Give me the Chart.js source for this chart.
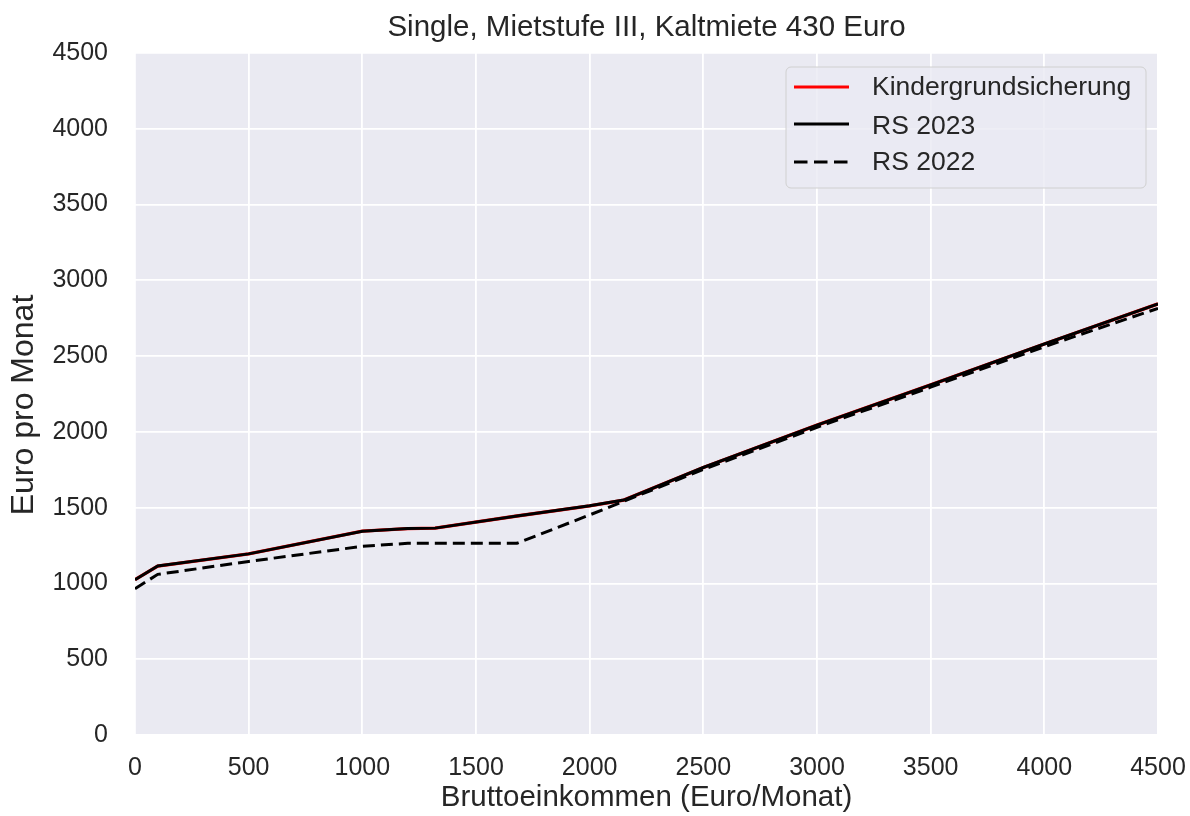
<!DOCTYPE html>
<html>
<head>
<meta charset="utf-8">
<script src="https://cdn.jsdelivr.net/npm/chart.js@4/dist/chart.umd.min.js"></script>
<style>
  html, body { margin: 0; padding: 0; background: #ffffff; }
  #wrap { width: 1190px; height: 816px; position: relative; }
</style>
</head>
<body>
<div id="wrap"><canvas id="c" width="1190" height="816"></canvas></div>
<script>
// Gross monthly income (Euro) at which the net amounts are given
const incomes = [0, 100, 500, 1000, 1200, 1320, 1680, 2000, 2150, 2500, 3000, 3500, 4000, 4500];
// Net amounts per month (Euro)
const rs2023 = [1025, 1115, 1195, 1345, 1362, 1365, 1445, 1512, 1550, 1765, 2045, 2310, 2580, 2845];
const kindergrundsicherung = [1025, 1115, 1195, 1345, 1362, 1365, 1445, 1512, 1550, 1765, 2045, 2310, 2580, 2845];
const rs2022 = [965, 1060, 1145, 1245, 1265, 1265, 1265, 1452, 1542, 1752, 2030, 2295, 2562, 2815];

const xTicks = [0, 500, 1000, 1500, 2000, 2500, 3000, 3500, 4000, 4500];
const yTicks = [0, 500, 1000, 1500, 2000, 2500, 3000, 3500, 4000, 4500];

const titleText = 'Single, Mietstufe III, Kaltmiete 430 Euro';
const xTitle = 'Bruttoeinkommen (Euro/Monat)';
const yTitle = 'Euro pro Monat';

const TEXT = '#262626';
const FONT = '"Liberation Sans", Arial, sans-serif';

const pts = (ys) => incomes.map((x, i) => ({ x: x, y: ys[i] }));

// Plot background in the seaborn "darkgrid" style
const areaBg = {
  id: 'areaBg',
  beforeDraw(chart) {
    const { ctx, chartArea: a } = chart;
    ctx.save();
    ctx.fillStyle = '#EAEAF2';
    ctx.fillRect(a.left, a.top, a.right - a.left, a.bottom - a.top);
    ctx.restore();
  }
};

// Chart title centred over the plot area, and the y-axis label
const axesText = {
  id: 'axesText',
  afterDraw(chart) {
    const { ctx, chartArea: a } = chart;
    ctx.save();
    ctx.fillStyle = TEXT;
    ctx.textAlign = 'center';
    ctx.textBaseline = 'middle';
    ctx.font = '29.5px ' + FONT;
    ctx.fillText(titleText, (a.left + a.right) / 2, 28);
    ctx.translate(24, 405);
    ctx.rotate(-Math.PI / 2);
    ctx.font = '32px ' + FONT;
    ctx.fillText(yTitle, 0, 0);
    ctx.restore();
  }
};

// Legend box drawn inside the plot, top right
const innerLegend = {
  id: 'innerLegend',
  afterDatasetsDraw(chart) {
    const { ctx, chartArea: a } = chart;
    const bx = a.right - 372, by = a.top + 14, bw = 360, bh = 121, r = 5;
    ctx.save();
    ctx.beginPath();
    ctx.moveTo(bx + r, by);
    ctx.arcTo(bx + bw, by, bx + bw, by + bh, r);
    ctx.arcTo(bx + bw, by + bh, bx, by + bh, r);
    ctx.arcTo(bx, by + bh, bx, by, r);
    ctx.arcTo(bx, by, bx + bw, by, r);
    ctx.closePath();
    ctx.fillStyle = 'rgba(234,234,242,0.8)';
    ctx.fill();
    ctx.strokeStyle = '#D0D0D0';
    ctx.lineWidth = 1;
    ctx.stroke();
    ctx.font = '26.5px ' + FONT;
    ctx.textBaseline = 'middle';
    ctx.fillStyle = TEXT;
    const handleY = [by + 20, by + 57, by + 95];
    const textY = [by + 21, by + 60, by + 96];
    [0, 1, 2].forEach((di, k) => {
      const ds = chart.data.datasets[di];
      ctx.beginPath();
      ctx.setLineDash(ds.borderDash ? [13.5, 6.5] : []);
      ctx.strokeStyle = ds.borderColor;
      ctx.lineWidth = 3;
      ctx.moveTo(bx + 8, handleY[k]);
      ctx.lineTo(bx + 63, handleY[k]);
      ctx.stroke();
      ctx.setLineDash([]);
      ctx.fillText(ds.label, bx + 86, textY[k]);
    });
    ctx.restore();
  }
};

new Chart(document.getElementById('c'), {
  type: 'line',
  data: {
    datasets: [
      { label: 'Kindergrundsicherung', data: pts(kindergrundsicherung), borderColor: '#FF0000', borderWidth: 3.4, order: 3 },
      { label: 'RS 2023', data: pts(rs2023), borderColor: '#000000', borderWidth: 3, order: 2 },
      { label: 'RS 2022', data: pts(rs2022), borderColor: '#000000', borderWidth: 3, borderDash: [12, 6], order: 1 }
    ]
  },
  options: {
    responsive: false,
    animation: false,
    elements: { point: { radius: 0 }, line: { tension: 0 } },
    layout: { padding: { left: 0, right: 32, top: 53, bottom: 0 } },
    plugins: {
      legend: { display: false },
      tooltip: { enabled: false },
      title: { display: false }
    },
    scales: {
      x: {
        type: 'linear', min: 0, max: 4500,
        afterBuildTicks(s) { s.ticks = xTicks.map(v => ({ value: v })); },
        afterFit(s) { s.height = 81; s.paddingLeft = 0; s.paddingRight = 0; },
        grid: { color: '#FFFFFF', lineWidth: 1.8, drawTicks: false },
        border: { display: false },
        ticks: { color: TEXT, font: { family: FONT, size: 25 }, padding: 18, maxRotation: 0,
                 callback: (v) => String(v) },
        title: { display: true, text: xTitle, color: TEXT, font: { family: FONT, size: 29.5, lineHeight: 1.2 },
                 padding: { top: 0, bottom: 0 } }
      },
      y: {
        type: 'linear', min: 0, max: 4500,
        afterBuildTicks(s) { s.ticks = yTicks.map(v => ({ value: v })); },
        afterFit(s) { s.width = 135; s.paddingTop = 0; s.paddingBottom = 0; },
        grid: { color: '#FFFFFF', lineWidth: 1.8, drawTicks: false },
        border: { display: false },
        ticks: { color: TEXT, font: { family: FONT, size: 25 }, padding: 27,
                 callback: (v) => String(v) },
        title: { display: false, text: yTitle }
      }
    }
  },
  plugins: [areaBg, innerLegend, axesText]
});
</script>
</body>
</html>
